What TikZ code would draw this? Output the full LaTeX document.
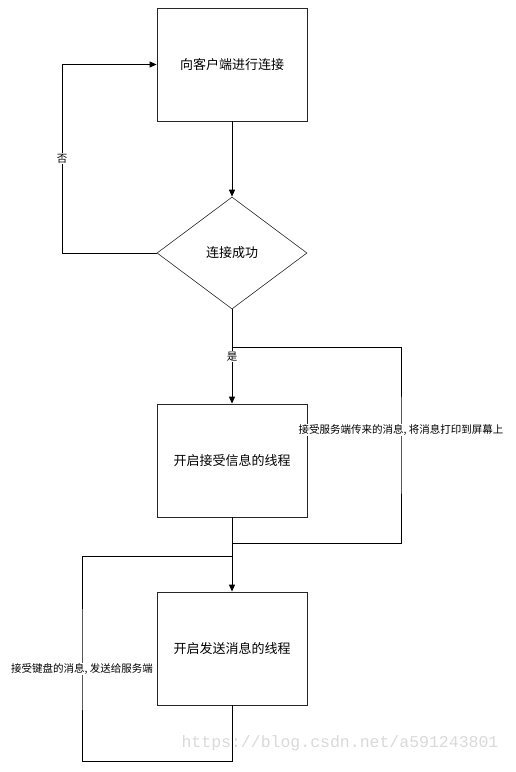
\documentclass[tikz,border=0pt]{standalone}
\usepackage{fontspec}
\setmainfont{Noto Sans CJK SC}
\newfontfamily\wmfont{Liberation Mono}
\usetikzlibrary{shapes.geometric,arrows.meta}

\begin{document}
\begin{tikzpicture}[x=1pt, y=1pt,
  box/.style={rectangle, draw=black!85, line width=0.8pt, minimum width=150pt, minimum height=113pt, font=\fontsize{13}{15}\selectfont},
  decision/.style={diamond, draw=black!85, line width=0.6pt, minimum width=150pt, minimum height=112pt, aspect=1.34, inner sep=0pt, font=\fontsize{13}{15}\selectfont},
  flow/.style={-{Triangle[length=7pt,width=6pt]}, line width=1pt},
  loopline/.style={line width=0.7pt},
  remark/.style={fill=white, inner sep=1pt, font=\fontsize{10.5}{12}\selectfont}]

\useasboundingbox (0,0) rectangle (515,-772);

\node(conn) [box, xshift = 232pt, yshift = -64.5pt] {向客户端进行连接};
\node(ok) [decision, xshift = 232pt, yshift = -253pt] {连接成功};
\node(recv) [box, xshift = 232pt, yshift = -460.5pt] {开启接受信息的线程};
\node(send) [box, xshift = 232pt, yshift = -648.5pt] {开启发送消息的线程};

\coordinate(nobend) at (62,-253);
\coordinate(recvin) at (232,-347);
\coordinate(recvside) at (401,-445);
\coordinate(recvout) at (232,-543);
\coordinate(sendin) at (232,-556);
\coordinate(sendside) at (82,-660);
\coordinate(sendbase) at (232,-761);

\draw[flow] (conn.south) -- (ok.north);
\draw[flow] (ok.west) -- (nobend) |- (conn.west) node[remark, pos=0.25] {否};
\draw[loopline] (recvin) -| (recvside) |- (recvout);
\draw[flow] (ok.south) -- (recv.north) node[remark, midway] {是};
\draw[flow] (recv.south) -- (send.north);
\draw[loopline] (sendin) -| (sendside) |- (sendbase) -- (send.south);

\node(recvmsg) [remark, xshift = 401pt, yshift = -430pt] {接受服务端传来的消息, 将消息打印到屏幕上};
\node(sendmsg) [remark, xshift = 82pt, yshift = -669pt] {接受键盘的消息, 发送给服务端};

\node(mark) [text=black!15, font=\wmfont\fontsize{16.5}{18}\selectfont, xshift = 340pt, yshift = -743pt] {https://blog.csdn.net/a591243801};

\end{tikzpicture}
\end{document}
